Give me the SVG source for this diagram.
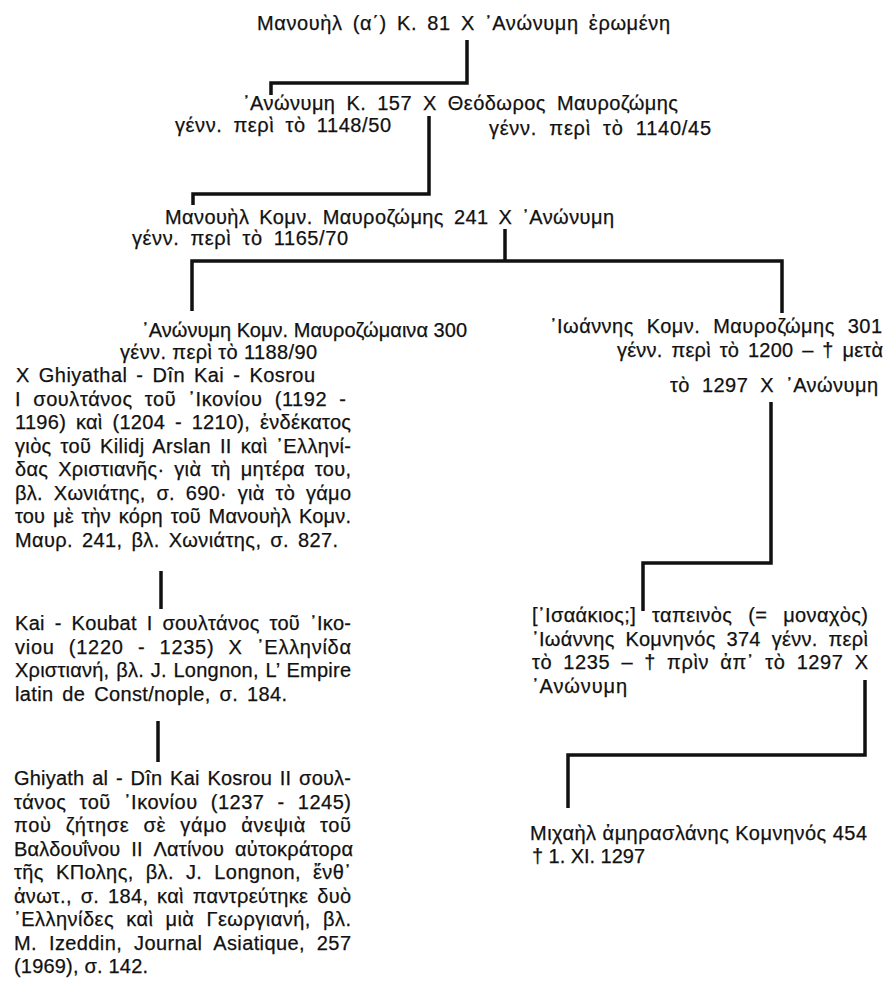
<svg xmlns="http://www.w3.org/2000/svg" width="887" height="994" viewBox="0 0 887 994">
<style>
.t { font-family: "Liberation Sans", Arial, "DejaVu Sans", sans-serif; font-size: 20px; fill: #111; stroke: #111; stroke-width: 0.25px; }
.c { fill: none; stroke: #111; stroke-width: 3.5; stroke-linejoin: miter; stroke-linecap: butt; }
</style>
<rect width="887" height="994" fill="#fff"/>
<g id="connectors">
  <path class="c" d="M467,40 V83 H271 V95"/>
  <path class="c" d="M429,116 V194 H193 V205"/>
  <path class="c" d="M505,229 V261"/>
  <path class="c" d="M192,311 V261 H782 V313"/>
  <path class="c" d="M161,571 V609"/>
  <path class="c" d="M158,721 V762"/>
  <path class="c" d="M771,402 V563 H643 V611"/>
  <path class="c" d="M865,680 V755 H568 V808"/>
</g>
<g id="n-manouil-a">
  <text class="t" x="257" y="30" word-spacing="4" textLength="413" lengthAdjust="spacing">Μανουὴλ (α΄) Κ. 81 X ᾿Ανώνυμη ἐρωμένη</text>
</g>
<g id="n-anonymi-157">
  <text class="t" x="243" y="110" word-spacing="5" textLength="435" lengthAdjust="spacing">᾿Ανώνυμη Κ. 157 X Θεόδωρος Μαυροζώμης</text>
  <text class="t" x="175" y="132" word-spacing="5" textLength="216" lengthAdjust="spacing">γένν. περὶ τὸ 1148/50</text>
  <text class="t" x="489" y="135" word-spacing="6" textLength="222" lengthAdjust="spacing">γένν. περὶ τὸ 1140/45</text>
</g>
<g id="n-manouil-241">
  <text class="t" x="165" y="224" word-spacing="4" textLength="449" lengthAdjust="spacing">Μανουὴλ Κομν. Μαυροζώμης 241 X ᾿Ανώνυμη</text>
  <text class="t" x="132" y="245" word-spacing="5" textLength="216" lengthAdjust="spacing">γένν. περὶ τὸ 1165/70</text>
</g>
<g id="n-anonymi-300">
  <text class="t" x="142" y="337" textLength="325" lengthAdjust="spacing">᾿Ανώνυμη Κομν. Μαυροζώμαινα 300</text>
  <text class="t" x="120" y="359" textLength="197" lengthAdjust="spacing">γένν. περὶ τὸ 1188/90</text>
  <text class="t" x="16" y="382" word-spacing="3" textLength="299" lengthAdjust="spacing">X Ghiyathal - Dîn Kai - Kosrou</text>
  <text class="t" x="15" y="405.5" word-spacing="6" textLength="331" lengthAdjust="spacing">Ι σουλτάνος τοῦ ᾿Ικονίου (1192 -</text>
  <text class="t" x="15" y="429" word-spacing="4" textLength="336" lengthAdjust="spacing">1196) καὶ (1204 - 1210), ἐνδέκατος</text>
  <text class="t" x="15" y="452.5" word-spacing="3" textLength="336" lengthAdjust="spacing">γιὸς τοῦ Kilidj Arslan II καὶ ᾿Ελληνί-</text>
  <text class="t" x="15" y="476" word-spacing="4" textLength="336" lengthAdjust="spacing">δας Χριστιανῆς· γιὰ τὴ μητέρα του,</text>
  <text class="t" x="15" y="499.5" word-spacing="5" textLength="336" lengthAdjust="spacing">βλ. Χωνιάτης, σ. 690· γιὰ τὸ γάμο</text>
  <text class="t" x="15" y="523" word-spacing="2" textLength="336" lengthAdjust="spacing">του μὲ τὴν κόρη τοῦ Μανουὴλ Κομν.</text>
  <text class="t" x="15" y="546.5" word-spacing="3" textLength="323" lengthAdjust="spacing">Μαυρ. 241, βλ. Χωνιάτης, σ. 827.</text>
</g>
<g id="n-kai-koubat">
  <text class="t" x="15" y="630" word-spacing="4" textLength="336" lengthAdjust="spacing">Kai - Koubat I σουλτάνος τοῦ ᾿Ικο-</text>
  <text class="t" x="15" y="653.5" word-spacing="8" textLength="336" lengthAdjust="spacing">viou (1220 - 1235) X ᾿Ελληνίδα</text>
  <text class="t" x="15" y="677" word-spacing="1" textLength="336" lengthAdjust="spacing">Χριστιανή, βλ. J. Longnon, L’ Empire</text>
  <text class="t" x="15" y="700.5" word-spacing="3" textLength="272" lengthAdjust="spacing">latin de Const/nople, σ. 184.</text>
</g>
<g id="n-ghiyath-ii">
  <text class="t" x="14" y="785" word-spacing="2" textLength="337" lengthAdjust="spacing">Ghiyath al - Dîn Kai Kosrou II σουλ-</text>
  <text class="t" x="14" y="808.5" word-spacing="7" textLength="337" lengthAdjust="spacing">τάνος τοῦ ᾿Ικονίου (1237 - 1245)</text>
  <text class="t" x="14" y="832" word-spacing="8" textLength="337" lengthAdjust="spacing">ποὺ ζήτησε σὲ γάμο ἀνεψιὰ τοῦ</text>
  <text class="t" x="14" y="855.5" word-spacing="5" textLength="339" lengthAdjust="spacing">Βαλδουΐνου II Λατίνου αὐτοκράτορα</text>
  <text class="t" x="14" y="879" word-spacing="6" textLength="337" lengthAdjust="spacing">τῆς ΚΠολης, βλ. J. Longnon, ἔνθ᾿</text>
  <text class="t" x="14" y="902.5" word-spacing="3" textLength="337" lengthAdjust="spacing">ἀνωτ., σ. 184, καὶ παντρεύτηκε δυὸ</text>
  <text class="t" x="14" y="926" word-spacing="6" textLength="337" lengthAdjust="spacing">᾿Ελληνίδες καὶ μιὰ Γεωργιανή, βλ.</text>
  <text class="t" x="14" y="949.5" word-spacing="6" textLength="337" lengthAdjust="spacing">M. Izeddin, Journal Asiatique, 257</text>
  <text class="t" x="14" y="973" textLength="134" lengthAdjust="spacing">(1969), σ. 142.</text>
</g>
<g id="n-ioannis-301">
  <text class="t" x="550" y="333" word-spacing="7" textLength="332" lengthAdjust="spacing">᾿Ιωάννης Κομν. Μαυροζώμης 301</text>
  <text class="t" x="617" y="357" word-spacing="3" textLength="266" lengthAdjust="spacing">γένν. περὶ τὸ 1200 – † μετὰ</text>
  <text class="t" x="670" y="392" word-spacing="6" textLength="208" lengthAdjust="spacing">τὸ 1297 X ᾿Ανώνυμη</text>
</g>
<g id="n-ioannis-374">
  <text class="t" x="532" y="622" word-spacing="10" textLength="336" lengthAdjust="spacing">[᾿Ισαάκιος;] ταπεινὸς (= μοναχὸς)</text>
  <text class="t" x="532" y="645.5" word-spacing="5" textLength="336" lengthAdjust="spacing">᾿Ιωάννης Κομνηνός 374 γένν. περὶ</text>
  <text class="t" x="532" y="669" word-spacing="5" textLength="336" lengthAdjust="spacing">τὸ 1235 – † πρὶν ἀπ᾿ τὸ 1297 X</text>
  <text class="t" x="532" y="692.5" textLength="95" lengthAdjust="spacing">᾿Ανώνυμη</text>
</g>
<g id="n-michail-454">
  <text class="t" x="530" y="840" textLength="337" lengthAdjust="spacing">Μιχαὴλ ἀμηρασλάνης Κομνηνός 454</text>
  <text class="t" x="532" y="863" textLength="113" lengthAdjust="spacing">† 1. XI. 1297</text>
</g>
</svg>
